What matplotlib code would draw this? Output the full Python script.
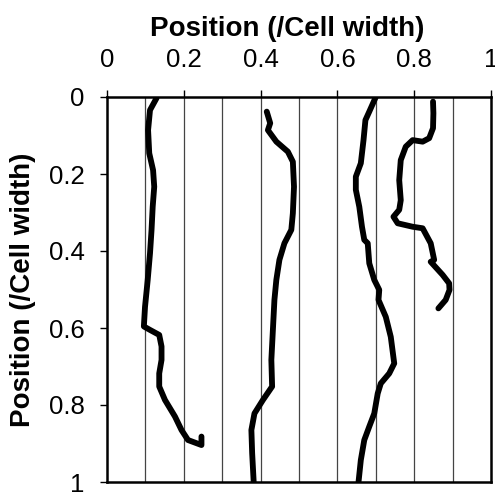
import numpy as np
import matplotlib
matplotlib.use("Agg")
from matplotlib import pyplot as plt

plt.rcParams['font.family'] = ['Liberation Sans', 'DejaVu Sans']

# traced cell outlines, (x, y) in units of cell width
trace1_x = [0.129, 0.112, 0.107, 0.110, 0.120, 0.123, 0.119, 0.116, 0.112, 0.106,
            0.099, 0.096, 0.112, 0.136, 0.142, 0.142, 0.136, 0.136, 0.151, 0.177,
            0.194, 0.211, 0.246, 0.246]
trace1_y = [0.003, 0.034, 0.086, 0.146, 0.190, 0.233, 0.285, 0.345, 0.406, 0.475,
            0.545, 0.596, 0.605, 0.618, 0.648, 0.683, 0.718, 0.752, 0.787, 0.830,
            0.865, 0.891, 0.904, 0.882]

trace2_x = [0.416, 0.425, 0.419, 0.441, 0.471, 0.484, 0.487, 0.484, 0.480, 0.462,
            0.449, 0.441, 0.436, 0.432, 0.428, 0.430, 0.406, 0.384, 0.376, 0.378,
            0.382]
trace2_y = [0.038, 0.068, 0.086, 0.116, 0.142, 0.168, 0.233, 0.302, 0.345, 0.380,
            0.423, 0.475, 0.527, 0.605, 0.683, 0.752, 0.787, 0.822, 0.865, 0.925,
            1.0]

trace3_x = [0.700, 0.683, 0.673, 0.668, 0.661, 0.648, 0.648, 0.657, 0.664, 0.670,
            0.679, 0.683, 0.696, 0.709, 0.707, 0.726, 0.739, 0.748, 0.735, 0.713,
            0.705, 0.696, 0.683, 0.670, 0.661, 0.655]
trace3_y = [0.0, 0.038, 0.060, 0.112, 0.172, 0.207, 0.241, 0.285, 0.337, 0.371,
            0.380, 0.432, 0.475, 0.501, 0.527, 0.571, 0.623, 0.692, 0.718, 0.744,
            0.770, 0.822, 0.856, 0.891, 0.943, 1.0]

trace4_x = [0.849, 0.850, 0.849, 0.839, 0.822, 0.796, 0.778, 0.765, 0.761, 0.765,
            0.761, 0.746, 0.757, 0.796, 0.822, 0.843, 0.852, 0.843, 0.874, 0.891,
            0.892, 0.882, 0.863]
trace4_y = [0.012, 0.042, 0.081, 0.107, 0.116, 0.112, 0.129, 0.164, 0.216, 0.268,
            0.293, 0.311, 0.328, 0.337, 0.341, 0.380, 0.423, 0.428, 0.462, 0.484,
            0.501, 0.527, 0.549]

traces = [(trace1_x, trace1_y), (trace2_x, trace2_y),
          (trace3_x, trace3_y), (trace4_x, trace4_y)]

fig = plt.figure(figsize=(4.95, 4.92), dpi=100)
ax = fig.add_axes([107 / 495, 1 - 482 / 492, 384 / 495, 385 / 492])

for gx in np.arange(0.1, 1.0, 0.1):
    ax.axvline(gx, color='#444444', lw=0.9, zorder=1)

for tx, ty in traces:
    ax.plot(tx, ty, color='black', lw=4.2, solid_capstyle='round',
            solid_joinstyle='round', zorder=3)

ax.set_xlim(0, 1)
ax.set_ylim(1, 0)
ax.xaxis.tick_top()
ax.xaxis.set_label_position('top')
ticks = [0, 0.2, 0.4, 0.6, 0.8, 1]
labels = ['0', '0.2', '0.4', '0.6', '0.8', '1']
ax.set_xticks(ticks, labels)
ax.set_yticks(ticks, labels)
ax.tick_params(axis='x', direction='out', length=5, width=1, labelsize=18.5, pad=13)
ax.tick_params(axis='y', direction='out', length=5, width=1, labelsize=18.5, pad=11)

for s in ax.spines.values():
    s.set_linewidth(1.8)

ax.set_xlabel('Position (/Cell width)', fontsize=20, fontweight='bold')
ax.set_ylabel('Position (/Cell width)', fontsize=20, fontweight='bold')
ax.xaxis.set_label_coords(0.47, 1.0 + 61 / 385, transform=ax.transAxes)
ax.yaxis.set_label_coords(-71 / 384, 0.5, transform=ax.transAxes)

fig.savefig('out.png', dpi=100)
